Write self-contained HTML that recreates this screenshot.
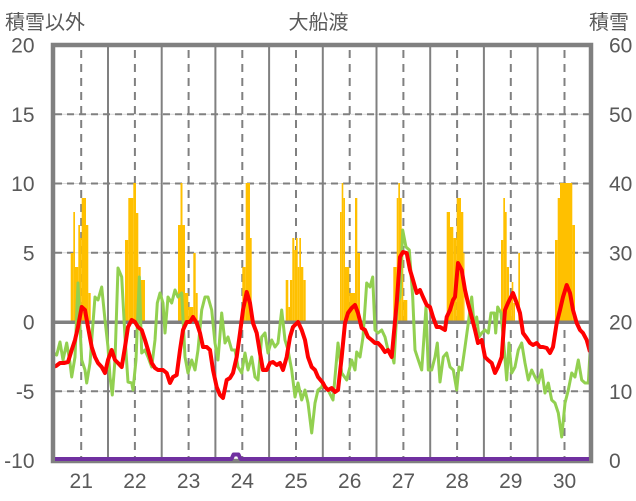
<!DOCTYPE html>
<html><head><meta charset="utf-8"><style>
html,body{margin:0;padding:0;background:#fff;}
svg{display:block;}
.t{font-family:"Liberation Sans","Noto Sans CJK JP",sans-serif;font-size:21px;fill:#595959;}
.j{font-family:"Liberation Sans","Noto Sans CJK JP",sans-serif;font-size:20px;fill:#595959;}
</style></head><body>
<svg width="636" height="501" viewBox="0 0 636 501" xmlns="http://www.w3.org/2000/svg">
<rect x="0" y="0" width="636" height="501" fill="#fff"/>
<g stroke="#D9D9D9" stroke-width="1">
<line x1="53" y1="114.3" x2="591" y2="114.3"/><line x1="53" y1="183.5" x2="591" y2="183.5"/><line x1="53" y1="252.8" x2="591" y2="252.8"/><line x1="53" y1="391.3" x2="591" y2="391.3"/>
</g>
<g stroke="#808080" stroke-width="2" stroke-dasharray="7,5">
<line x1="55" y1="114.3" x2="591" y2="114.3"/><line x1="55" y1="183.5" x2="591" y2="183.5"/><line x1="55" y1="252.8" x2="591" y2="252.8"/><line x1="55" y1="391.3" x2="591" y2="391.3"/>
</g>
<g stroke="#808080" stroke-width="2" stroke-dasharray="8,6" stroke-dashoffset="-3">
<line x1="81.2" y1="47" x2="81.2" y2="460"/><line x1="134.9" y1="47" x2="134.9" y2="460"/><line x1="188.6" y1="47" x2="188.6" y2="460"/><line x1="242.3" y1="47" x2="242.3" y2="460"/><line x1="296" y1="47" x2="296" y2="460"/><line x1="349.7" y1="47" x2="349.7" y2="460"/><line x1="403.4" y1="47" x2="403.4" y2="460"/><line x1="457.1" y1="47" x2="457.1" y2="460"/><line x1="510.8" y1="47" x2="510.8" y2="460"/><line x1="564.5" y1="47" x2="564.5" y2="460"/>
</g>
<g stroke="#808080" stroke-width="2">
<line x1="108" y1="45" x2="108" y2="461"/><line x1="161.7" y1="45" x2="161.7" y2="461"/><line x1="215.4" y1="45" x2="215.4" y2="461"/><line x1="269.1" y1="45" x2="269.1" y2="461"/><line x1="322.8" y1="45" x2="322.8" y2="461"/><line x1="376.5" y1="45" x2="376.5" y2="461"/><line x1="430.2" y1="45" x2="430.2" y2="461"/><line x1="483.9" y1="45" x2="483.9" y2="461"/><line x1="537.6" y1="45" x2="537.6" y2="461"/>
</g>
<g fill="#FFC000">
<rect x="70.7" y="253" width="2.6" height="69"/><rect x="73.3" y="212" width="1.7" height="110"/><rect x="75" y="267" width="3.3" height="55"/><rect x="78.3" y="225" width="1.7" height="97"/><rect x="80" y="238" width="1.7" height="84"/><rect x="81.7" y="198" width="4.3" height="124"/><rect x="86" y="225" width="2.3" height="97"/><rect x="88.3" y="293" width="2.4" height="29"/>
<rect x="125" y="240" width="3.3" height="82"/><rect x="128.3" y="198" width="5" height="124"/><rect x="133.3" y="183" width="2.7" height="139"/><rect x="136" y="213" width="2.3" height="109"/><rect x="138.3" y="267" width="2.4" height="55"/><rect x="140.7" y="280" width="4.3" height="42"/>
<rect x="178" y="225" width="2.5" height="97"/><rect x="180.5" y="183" width="2" height="139"/><rect x="182.5" y="225" width="2.5" height="97"/><rect x="185" y="293" width="3.3" height="29"/><rect x="188.3" y="307" width="5" height="15"/><rect x="193.3" y="253" width="2.4" height="69"/><rect x="195.7" y="293" width="2" height="29"/>
<rect x="242.3" y="267" width="3.4" height="55"/><rect x="245.7" y="183" width="4.3" height="139"/><rect x="250" y="238" width="1.7" height="84"/>
<rect x="285.7" y="280" width="2.6" height="42"/><rect x="288.3" y="307" width="1.7" height="15"/><rect x="290" y="280" width="2.3" height="42"/><rect x="292.3" y="238" width="2" height="84"/><rect x="294.3" y="250" width="1.7" height="72"/><rect x="296" y="238" width="1.7" height="84"/><rect x="297.7" y="267" width="1.6" height="55"/><rect x="299.3" y="238" width="1.7" height="84"/><rect x="301" y="267" width="2.3" height="55"/><rect x="303.3" y="280" width="2.4" height="42"/>
<rect x="340" y="212" width="1.7" height="110"/><rect x="341.7" y="183" width="1.6" height="139"/><rect x="343.3" y="198" width="1.7" height="124"/><rect x="345" y="267" width="4.3" height="55"/><rect x="349.3" y="293" width="5.7" height="29"/><rect x="355" y="198" width="2.3" height="124"/><rect x="357.3" y="253" width="2.7" height="69"/>
<rect x="393.3" y="267" width="3.4" height="55"/><rect x="396.7" y="198" width="1.6" height="124"/><rect x="398.3" y="183" width="1.7" height="139"/><rect x="400" y="198" width="1.7" height="124"/><rect x="401.7" y="253" width="1.6" height="69"/><rect x="403.3" y="300" width="4" height="22"/>
<rect x="446.7" y="212" width="3.3" height="110"/><rect x="450" y="227" width="3.3" height="95"/><rect x="453.3" y="238" width="3.4" height="84"/><rect x="456.7" y="198" width="4.3" height="124"/><rect x="461" y="212" width="2.3" height="110"/><rect x="463.3" y="253" width="1.2" height="69"/>
<rect x="501" y="240" width="2.3" height="82"/><rect x="503.3" y="198" width="1.7" height="124"/><rect x="505" y="212" width="1.7" height="110"/><rect x="506.7" y="267" width="2.3" height="55"/><rect x="509" y="300" width="2.7" height="22"/><rect x="511.7" y="282" width="1.6" height="40"/><rect x="513.3" y="303" width="1.7" height="19"/><rect x="518.3" y="253" width="1.7" height="69"/>
<rect x="555" y="240" width="2.7" height="82"/><rect x="557.7" y="198" width="2.3" height="124"/><rect x="560" y="183" width="12.3" height="139"/><rect x="572.3" y="225" width="2.7" height="97"/>
</g>
<line x1="53" y1="322.3" x2="591" y2="322.3" stroke="#808080" stroke-width="3.5"/>
<polyline fill="none" stroke="#92D050" stroke-width="3" stroke-linejoin="round" points="53,353 56.7,355 60,342 63,360 66.7,343 70,363 71.7,377 75,357 78,283 80,327 81.7,360 85,370 86.7,383 90,363 93,323 95,297 98,300 101.7,287 105,320 108,347 110,377 112.3,395 115,360 118,268 121.7,277 125,337 128,382 131.7,383 133,390 136,360 139.3,277 141.7,353 145,350 148,357 151.7,367 155,340 157.3,303 160,293 163,303 165,333 168,297 171.7,303 175,290 178,297 181.7,293 185,357 188,373 191.7,360 195,370 198,350 201.7,310 205,297 208,297 211.7,310 215,343 218,360 221.7,313 225,343 228,337 231.7,350 235,350 238,367 241.7,373 245,353 248,370 251.7,357 255,377 258,380 261.7,337 265,333 268,353 271.7,340 275,347 278,343 281.7,310 285,340 288,350 291.7,370 295,397 298,383 301.7,400 305,390 308,403 311.7,433 315,403 318,390 321.7,387 323,383 328,390 333,400 338,343 341.7,373 346.7,380 351.7,360 355,370 356.7,352 360,357 363,337 366.7,283 370,287 372.7,277 375,330 378,333 381.7,330 385,337 388,350 391.7,353 394,363 397.3,303 400,297 402.7,230 406,247 409.3,250 412.7,297 415,350 418.3,360 421.7,370 424,337 426,307 428.3,370 431.7,370 435,357 437.3,343 440,382 443.3,357 446.7,353 450,367 453.3,370 456.7,390 459,367 461.7,370 465,347 468.3,323 471.7,297 474.3,327 476.7,317 479,337 481.7,333 485,330 488.3,333 491,313 494.3,313 495.7,333 497.7,307 501,313 504.3,350 506.7,380 509,343 511.7,373 515,367 518.3,350 521.7,343 525,363 528.3,380 531.7,370 535,377 538.3,383 541.7,370 545,393 548.3,383 551.7,400 555,403 558.3,413 561.7,437 565,403 568.3,390 571.7,373 575,377 578.3,360 581.7,380 585,383 588.3,383 590,353"/>
<polyline fill="none" stroke="#FF0000" stroke-width="4" stroke-linejoin="round" points="53,367 56,366 60,363 64,363 68,362 71.7,350 75,340 78,327 81.7,307 85,310 88,327 91.7,347 95,357 98,363 101.7,367 105,373 108,360 111.7,350 115,360 118,363 121.7,367 125,347 128,327 131.7,320 135,322 138,327 141.7,330 145,340 148,350 151.7,363 155,368 158,370 163,370 166.7,373 170,383 173,377 176.7,375 180,350 183,330 186.7,322 190,322 193,317 196.7,323 200,333 203,347 206.7,347 210,350 213,370 216.7,387 220,395 223,398 226.7,380 230,378 233,373 236.7,357 240,333 243,310 246.7,292 250,303 253,323 256.7,333 260,353 263,370 266.7,370 270,363 273,362 276.7,365 280,363 283,370 286.7,357 290,337 293,327 298,322 301.7,330 305,340 308,357 311.7,367 315,370 318,377 323,383 325,387 328,390 331.7,388 335,392 338,390 341.7,357 345,323 348,313 351.7,308 355,305 358,313 361.7,328 365,330 368,337 371.7,340 375,343 378,343 381.7,347 385,352 388,350 391.7,357 393,343 396.7,303 400,257 403,252 406.7,253 410,270 413,280 416.7,293 420,290 423,297 426.7,305 430,307 433,317 436.7,327 440,327 445,330 446.7,317 450,310 453,300 455,297 458,263 461.7,270 465,290 468,303 471.7,317 475,330 478,343 481.7,340 485,357 488,360 491.7,363 495,373 498,367 501.7,357 505,310 508,303 513,293 516.7,303 520,313 523,333 526.7,338 530,343 533,345 536.7,343 540,347 543,347 546.7,348 550,353 553,347 556.7,323 560,310 563,297 566.7,285 570,293 573,310 576.7,323 580,330 583,333 586.7,340 590,352"/>
<rect x="53" y="45" width="538" height="416" fill="none" stroke="#808080" stroke-width="4.5"/>
<path d="M55,459 L231.5,459 L233.5,454.5 L238.5,454.5 L240.5,459 L589,459" fill="none" stroke="#7030A0" stroke-width="4" stroke-linejoin="round"/>
<g class="t" text-anchor="end">
<text x="34.5" y="52.5">20</text><text x="34.5" y="121.8">15</text><text x="34.5" y="191">10</text><text x="34.5" y="260.3">5</text><text x="34.5" y="329.5">0</text><text x="34.5" y="398.8">-5</text><text x="34.5" y="468">-10</text>
</g>
<g class="t" text-anchor="start">
<text x="609" y="52.5">60</text><text x="609" y="121.8">50</text><text x="609" y="191">40</text><text x="609" y="260.3">30</text><text x="609" y="329.5">20</text><text x="609" y="398.8">10</text><text x="609" y="468">0</text>
</g>
<g class="t" text-anchor="middle">
<text x="81.2" y="488">21</text><text x="134.9" y="488">22</text><text x="188.6" y="488">23</text><text x="242.3" y="488">24</text><text x="296" y="488">25</text><text x="349.7" y="488">26</text><text x="403.4" y="488">27</text><text x="457.1" y="488">28</text><text x="510.8" y="488">29</text><text x="564.5" y="488">30</text>
</g>
<text class="j" x="5" y="29">積雪以外</text>
<text class="j" x="318.5" y="29" text-anchor="middle">大船渡</text>
<text class="j" x="589" y="29">積雪</text>
</svg>
</body></html>
